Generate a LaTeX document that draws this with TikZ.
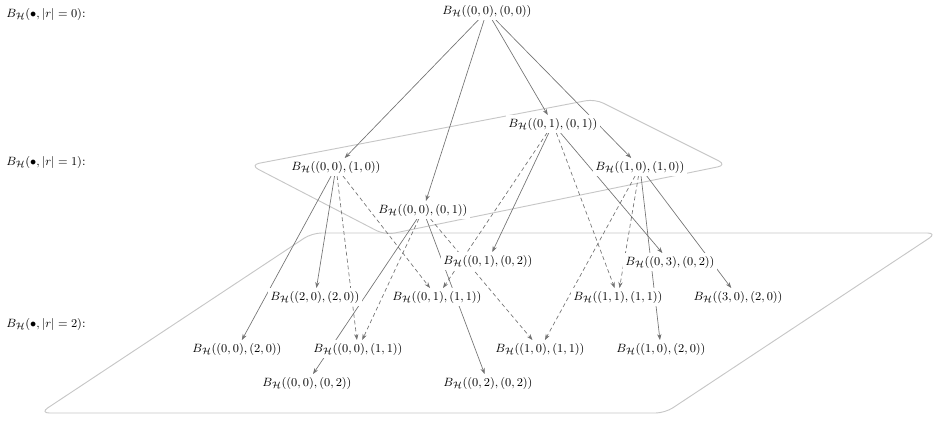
\documentclass[tikz,border=0pt]{standalone}
\usepackage{amsmath, amssymb}
\usetikzlibrary{arrows.meta, backgrounds}

\begin{document}
\begin{tikzpicture}[x=0.75pt, y=-0.75pt,
  bnode/.style={fill=white, inner sep=2pt, font=\fontsize{9.4}{11}\selectfont},
  lvl/.style={anchor=west, inner sep=0pt, font=\fontsize{9.4}{11}\selectfont},
  link/.style={draw=black!55, line width=0.5pt, -{Stealth[length=4.5pt, width=3.2pt]}},
  dlink/.style={link, dash pattern=on 3pt off 2.2pt},
  plane/.style={draw=black!22, line width=0.7pt, rounded corners=7pt}
]
  \useasboundingbox (0,0) rectangle (941,436);

  % level labels
  \node[lvl] (lvl0) at (6,14)  {$B_{\mathcal H}(\bullet, |r| = 0)$:};
  \node[lvl] (lvl1) at (6,162) {$B_{\mathcal H}(\bullet, |r| = 1)$:};
  \node[lvl] (lvl2) at (6,324) {$B_{\mathcal H}(\bullet, |r| = 2)$:};

  % balls
  \node[bnode] (b0000) at (487,11)  {$B_{\mathcal H}((0,0),(0,0))$};
  \node[bnode] (b0101) at (553,124) {$B_{\mathcal H}((0,1),(0,1))$};
  \node[bnode] (b1010) at (640,167) {$B_{\mathcal H}((1,0),(1,0))$};
  \node[bnode] (b0010) at (336,167) {$B_{\mathcal H}((0,0),(1,0))$};
  \node[bnode] (b0001) at (423,210) {$B_{\mathcal H}((0,0),(0,1))$};
  \node[bnode] (b0102) at (488,261) {$B_{\mathcal H}((0,1),(0,2))$};
  \node[bnode] (b0302) at (670,262) {$B_{\mathcal H}((0,3),(0,2))$};
  \node[bnode] (b2020) at (315,297) {$B_{\mathcal H}((2,0),(2,0))$};
  \node[bnode] (b0111) at (437,297) {$B_{\mathcal H}((0,1),(1,1))$};
  \node[bnode] (b1111) at (618,297) {$B_{\mathcal H}((1,1),(1,1))$};
  \node[bnode] (b3020) at (738,297) {$B_{\mathcal H}((3,0),(2,0))$};
  \node[bnode] (b0020) at (237,349) {$B_{\mathcal H}((0,0),(2,0))$};
  \node[bnode] (b0011) at (358,349) {$B_{\mathcal H}((0,0),(1,1))$};
  \node[bnode] (b1011) at (540,349) {$B_{\mathcal H}((1,0),(1,1))$};
  \node[bnode] (b1020) at (661,349) {$B_{\mathcal H}((1,0),(2,0))$};
  \node[bnode] (b0002) at (307,383) {$B_{\mathcal H}((0,0),(0,2))$};
  \node[bnode] (b0202) at (488,383) {$B_{\mathcal H}((0,2),(0,2))$};

  \begin{scope}[on background layer]
    % planes |r|=1 and |r|=2
    \draw[plane] (250,165) -- (595,99) -- (727,165) -- (385,235) -- cycle;
    \draw[plane] (40,413) -- (312,233) -- (937,233) -- (665,413) -- cycle;

    % solid
    \draw[link] (b0000) -- (b0010);
    \draw[link] (b0000) -- (b0001);
    \draw[link] (b0000) -- (b0101);
    \draw[link] (b0000) -- (b1010);
    \draw[link] (b0010) -- (b0020);
    \draw[link] (b0010) -- (b2020);
    \draw[link] (b0001) -- (b0002);
    \draw[link] (b0001) -- (b0202);
    \draw[link] (b0101) -- (b0102);
    \draw[link] (b0101) -- (b0302);
    \draw[link] (b1010) -- (b1020);
    \draw[link] (b1010) -- (b3020);

    % dashed
    \draw[dlink] (b0010) -- (b0011);
    \draw[dlink] (b0010) -- (b0111);
    \draw[dlink] (b0001) -- (b0011);
    \draw[dlink] (b0001) -- (b1011);
    \draw[dlink] (b0101) -- (b0111);
    \draw[dlink] (b0101) -- (b1111);
    \draw[dlink] (b1010) -- (b1111);
    \draw[dlink] (b1010) -- (b1011);
  \end{scope}
\end{tikzpicture}
\end{document}
